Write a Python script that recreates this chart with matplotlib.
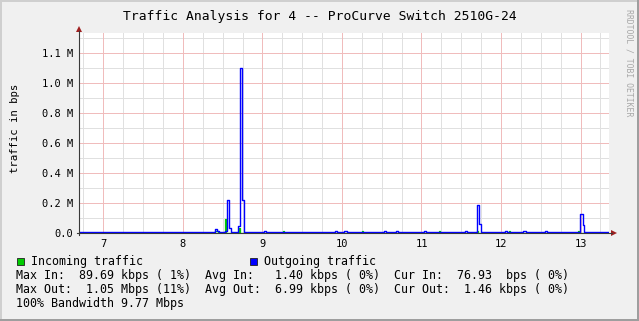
import numpy as np
import matplotlib
matplotlib.use("Agg")
import matplotlib.pyplot as plt
from matplotlib.patches import Rectangle, Polygon

matplotlib.rcParams["font.family"] = ["DejaVu Sans Mono"]

# ---- data (hours of day, traffic in raw units of 1e6 bps) ----
out_t = [6.69, 7.25, 7.34, 8.41, 8.43, 8.45, 8.53, 8.555, 8.58, 8.6015,
         8.693, 8.718, 8.7436, 8.765, 9.02, 9.05, 9.50, 9.56, 9.91, 9.94,
         10.03, 10.06, 10.53, 10.56, 10.68, 10.71, 11.03, 11.06, 11.55, 11.57,
         11.698, 11.723, 11.752, 12.05, 12.08, 12.28, 12.31, 12.55, 12.58, 12.992,
         13.026, 13.043, 13.36]
out_v = [0.004, 0.008, 0.004, 0.025, 0.012, 0.004, 0.012, 0.222, 0.036, 0.004,
         0.045, 1.10, 0.218, 0.004, 0.010, 0.004, 0.009, 0.004, 0.010, 0.004,
         0.010, 0.004, 0.010, 0.004, 0.010, 0.004, 0.010, 0.004, 0.010, 0.004,
         0.187, 0.063, 0.004, 0.012, 0.004, 0.012, 0.004, 0.010, 0.004, 0.125,
         0.050, 0.004, 0.004]

in_t = [6.69, 8.41, 8.44, 8.535, 8.548, 8.70, 8.718, 9.255, 9.27, 10.25,
        10.265, 11.215, 11.23, 11.70, 11.715, 12.10, 12.115, 12.965, 12.98, 13.36]
in_v = [0.002, 0.010, 0.002, 0.090, 0.002, 0.033, 0.002, 0.012, 0.002, 0.012,
        0.002, 0.010, 0.002, 0.012, 0.002, 0.012, 0.002, 0.015, 0.002, 0.002]

x_ticks = [7, 8, 9, 10, 11, 12, 13]
x_labels = ["7", "8", "9", "10", "11", "12", "13"]
y_ticks = [0.0, 0.2, 0.4, 0.6, 0.8, 1.0, 1.2]
y_labels = ["0.0", "0.2 M", "0.4 M", "0.6 M", "0.8 M", "1.0 M", "1.1 M"]

title = "Traffic Analysis for 4 -- ProCurve Switch 2510G-24"
legend_rows = [
    "Max In:  89.69 kbps ( 1%)  Avg In:   1.40 kbps ( 0%)  Cur In:  76.93  bps ( 0%)",
    "Max Out:  1.05 Mbps (11%)  Avg Out:  6.99 kbps ( 0%)  Cur Out:  1.46 kbps ( 0%)",
    "100% Bandwidth 9.77 Mbps",
]

GREEN = "#00CC00"
BLUE = "#0000FF"
GRID = "#E0E0E0"
MGRID = "#F0BCBC"
AXIS = "#3A3A3A"
ARROW = "#A02020"

W, H = 639, 321
fig = plt.figure(figsize=(W / 100, H / 100), dpi=100)
fig.patch.set_facecolor("#F0F0F0")

# background layer in pixel coords (border, texts)
bg = fig.add_axes([0, 0, 1, 1])
bg.set_xlim(0, W); bg.set_ylim(H, 0); bg.axis("off")
bg.add_patch(Rectangle((0, 0), W, 2, color="#CFCFCF", lw=0))
bg.add_patch(Rectangle((0, 0), 2, H, color="#CFCFCF", lw=0))
bg.add_patch(Rectangle((W - 2, 0), 2, H, color="#9E9E9E", lw=0))
bg.add_patch(Rectangle((0, H - 2), W, 2, color="#9E9E9E", lw=0))

bg.text(319.5, 16.5, title, ha="center", va="center", fontsize=9.4)
bg.text(15, 128, "traffic in bps", rotation=90, ha="center", va="center", fontsize=7.7)
bg.text(629, 62.5, "RRDTOOL / TOBI OETIKER", rotation=-90, ha="center", va="center",
        fontsize=5.9, color="#A8A8A8")

# legend
bg.add_patch(Rectangle((16.5, 257.5), 7, 7, facecolor=GREEN, edgecolor="#202020", lw=0.6))
bg.text(30.6, 261, "Incoming traffic", ha="left", va="center", fontsize=8.37)
bg.add_patch(Rectangle((249.5, 257.5), 7, 7, facecolor=BLUE, edgecolor="#202020", lw=0.6))
bg.text(264, 261, "Outgoing traffic", ha="left", va="center", fontsize=8.37)
for row, yy in zip(legend_rows, [275.7, 289.3, 303.3]):
    bg.text(16.3, yy, row, ha="left", va="center", fontsize=8.37)
bg.set_zorder(0)

# plot area
x0, y_top, pw, ph = 79, 33, 530.3, 200
ax = fig.add_axes([x0 / W, 1 - (y_top + ph) / H, pw / W, ph / H])
ax.set_zorder(1)
ax.set_facecolor("white")
xmin, xmax, ymax = 6.6945, 13.361, 1.3333
ax.set_xlim(xmin, xmax)
ax.set_ylim(0, ymax)

# grid: minor every 15 min / 0.1 M, major every hour / 0.2 M (crisp 1px lines)
x_minor = [h + q for h in range(6, 14) for q in (0.25, 0.5, 0.75) if xmin < h + q < xmax]
y_minor = [0.1, 0.3, 0.5, 0.7, 0.9, 1.1, 1.3]
ax.vlines(x_minor, 0, ymax, colors=GRID, lw=0.72, antialiased=False, zorder=1)
ax.hlines(y_minor, xmin, xmax, colors=GRID, lw=0.72, antialiased=False, zorder=1)
ax.vlines(x_ticks, 0, ymax, colors=MGRID, lw=0.72, antialiased=False, zorder=1.5)
ax.hlines(y_ticks[1:], xmin, xmax, colors=MGRID, lw=0.72, antialiased=False, zorder=1.5)

ax.set_xticks(x_ticks)
ax.set_xticklabels(x_labels)
ax.set_yticks(y_ticks)
ax.set_yticklabels(y_labels)
ax.tick_params(which="both", length=0, labelsize=7.5)
ax.tick_params(axis="y", pad=4.3)
ax.tick_params(axis="x", pad=4.2)
for s in ax.spines.values():
    s.set_visible(False)

ax.step(in_t, in_v, where="post", color=GREEN, lw=0.9, zorder=3)
ax.step(out_t, out_v, where="post", color=BLUE, lw=1.0, zorder=4)

# axis lines with arrows, drawn on an overlay above the plot
ybase = y_top + ph
ov = fig.add_axes([0, 0, 1, 1])
ov.set_xlim(0, W); ov.set_ylim(H, 0); ov.axis("off")
ov.patch.set_alpha(0)
ov.plot([77, 612], [ybase, ybase], color=AXIS, lw=0.8)
ov.plot([x0, x0], [ybase + 2, 31], color=AXIS, lw=0.8)
ov.add_patch(Polygon([[611, ybase - 3], [617, ybase], [611, ybase + 3]], closed=True,
                     color=ARROW, lw=0))
ov.add_patch(Polygon([[x0 - 3, 32], [x0, 26], [x0 + 3, 32]], closed=True,
                     color=ARROW, lw=0))
ov.set_zorder(2)

fig.savefig("out.png", dpi=100, facecolor=fig.get_facecolor())
